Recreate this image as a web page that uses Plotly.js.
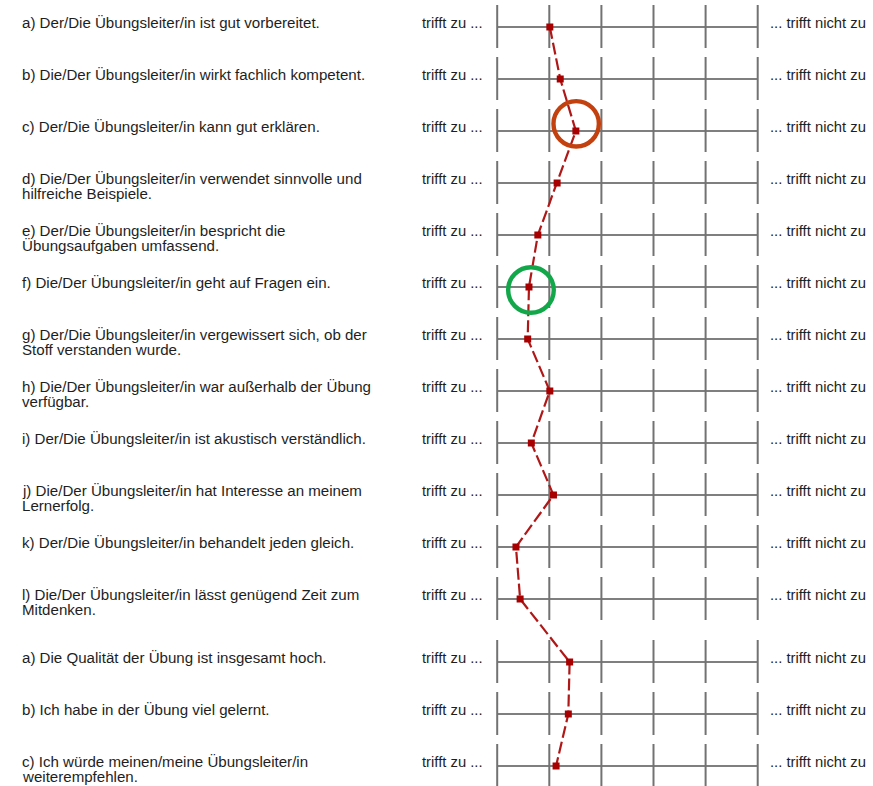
<!DOCTYPE html>
<html>
<head>
<meta charset="utf-8">
<script src="https://cdn.plot.ly/plotly-3.0.1.min.js"></script>
<style>
html,body{margin:0;padding:0;background:#fff;}
#chart{width:873px;height:786px;}
</style>
</head>
<body>
<div id="chart"></div>
<script>
// ---- data ----
const questionsLine1 = [
  "a) Der/Die Übungsleiter/in ist gut vorbereitet.",
  "b) Die/Der Übungsleiter/in wirkt fachlich kompetent.",
  "c) Der/Die Übungsleiter/in kann gut erklären.",
  "d) Die/Der Übungsleiter/in verwendet sinnvolle und",
  "e) Der/Die Übungsleiter/in bespricht die",
  "f) Die/Der Übungsleiter/in geht auf Fragen ein.",
  "g) Der/Die Übungsleiter/in vergewissert sich, ob der",
  "h) Die/Der Übungsleiter/in war außerhalb der Übung",
  "i) Der/Die Übungsleiter/in ist akustisch verständlich.",
  "j) Die/Der Übungsleiter/in hat Interesse an meinem",
  "k) Der/Die Übungsleiter/in behandelt jeden gleich.",
  "l) Die/Der Übungsleiter/in lässt genügend Zeit zum",
  "a) Die Qualität der Übung ist insgesamt hoch.",
  "b) Ich habe in der Übung viel gelernt.",
  "c) Ich würde meinen/meine Übungsleiter/in"
];
const questionsLine2 = [
  "", "", "",
  "hilfreiche Beispiele.",
  "Übungsaufgaben umfassend.",
  "",
  "Stoff verstanden wurde.",
  "verfügbar.",
  "",
  "Lernerfolg.",
  "",
  "Mitdenken.",
  "", "",
  "weiterempfehlen."
];
const groupOf = [0,0,0,0,0,0,0,0,0,0,0,0,1,1,1];
const meanValues = [2.01, 2.21, 2.51, 2.15, 1.78, 1.61, 1.585, 2.01, 1.655, 2.08, 1.36, 1.44, 2.39, 2.365, 2.13];
const scaleTicks = [1, 2, 3, 4, 5, 6];
const leftPole = "trifft zu ...";
const rightPole = "... trifft nicht zu";
const highlightOrange = 2;  // index of item c)
const highlightGreen = 5;   // index of item f)

// ---- layout helpers ----
const W = 873, H = 786;
const pxPerX = 52.1, x1px = 497.2;
const pxPerY = 52, row0px = 27, groupGapPx = 11;
const xRange = [1 - x1px / pxPerX, 1 + (W - x1px) / pxPerX];
const yRange = [(H - row0px) / pxPerY, -row0px / pxPerY];
const rowPos = groupOf.map((g, i) => i + g * groupGapPx / pxPerY);
const dx = px => px / pxPerX, dy = px => px / pxPerY;

const font = {family: "Liberation Sans, Arial, sans-serif", size: 14.8, color: "#1e1e1e"};
const labelFont = {family: "Liberation Sans, Arial, sans-serif", size: 15.1, color: "#1e1e1e"};
const shapes = [];
const annotations = [];

rowPos.forEach((y, i) => {
  shapes.push({type: "line", xref: "x", yref: "y", x0: scaleTicks[0], x1: scaleTicks[scaleTicks.length - 1],
    y0: y, y1: y, line: {color: "#555555", width: 1.4}, layer: "below"});
  scaleTicks.forEach(t => {
    shapes.push({type: "line", xref: "x", yref: "y", x0: t, x1: t, y0: y - dy(22), y1: y + dy(21),
      line: {color: "#727272", width: 2}, layer: "below"});
  });
  annotations.push({xref: "paper", yref: "y", x: 21 / W, y: y - dy(4.3), xanchor: "left", yanchor: "middle",
    text: questionsLine1[i], showarrow: false, font: labelFont, borderpad: 0});
  if (questionsLine2[i]) {
    annotations.push({xref: "paper", yref: "y", x: 21 / W, y: y + dy(10.6), xanchor: "left", yanchor: "middle",
      text: questionsLine2[i], showarrow: false, font: labelFont, borderpad: 0});
  }
  annotations.push({xref: "paper", yref: "y", x: 420.5 / W, y: y - dy(4.3), xanchor: "left", yanchor: "middle",
    text: leftPole, showarrow: false, font: font, borderpad: 0});
  annotations.push({xref: "paper", yref: "y", x: 769 / W, y: y - dy(4.3), xanchor: "left", yanchor: "middle",
    text: rightPole, showarrow: false, font: font, borderpad: 0});
});

// highlight circles
function circle(i, offX, offY, r, color) {
  const cx = meanValues[i] + dx(offX), cy = rowPos[i] + dy(offY);
  return {type: "circle", xref: "x", yref: "y", x0: cx - dx(r), x1: cx + dx(r), y0: cy - dy(r), y1: cy + dy(r),
    line: {color: color, width: 4.4}, layer: "above"};
}
shapes.push(circle(highlightOrange, 0.3, -7.2, 22.7, "#c3410f"));
shapes.push(circle(highlightGreen, 2, 3, 22.8, "#12a84a"));

const trace = {
  x: meanValues,
  y: rowPos,
  type: "scatter",
  mode: "lines+markers",
  line: {color: "#b01818", width: 2.2, dash: "12px,4px"},
  marker: {symbol: "square", size: 7, color: "#a80000"},
  hoverinfo: "skip"
};

const layout = {
  width: W, height: H,
  margin: {l: 0, r: 0, t: 0, b: 0},
  paper_bgcolor: "#ffffff", plot_bgcolor: "#ffffff",
  showlegend: false,
  xaxis: {range: xRange, visible: false, fixedrange: true},
  yaxis: {range: yRange, visible: false, fixedrange: true},
  shapes: shapes,
  annotations: annotations
};

Plotly.newPlot("chart", [trace], layout, {displayModeBar: false, staticPlot: true});
</script>
</body>
</html>
